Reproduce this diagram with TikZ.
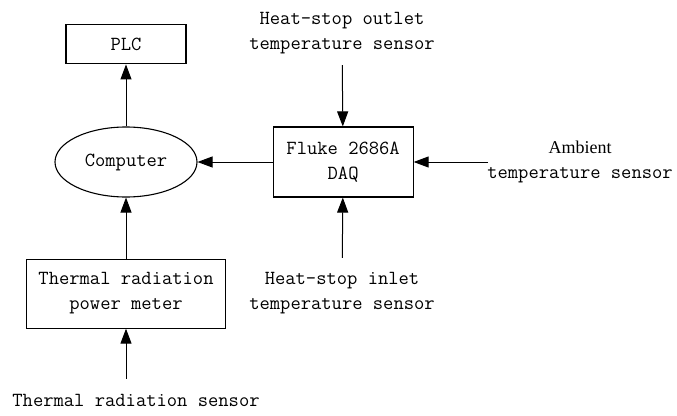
\documentclass[tikz,border=0pt]{standalone}
\usepackage{fontspec}
\newfontfamily\serifA{Liberation Serif}
\usetikzlibrary{arrows.meta,positioning,shapes.geometric}
\tikzset{
  blk/.style   ={rectangle,draw=black,line width=1.1pt,align=center,
                 inner sep=0pt},
  pc/.style    ={ellipse,draw=black,line width=1.1pt,minimum width=142pt,
                 minimum height=70pt,inner sep=0pt},
  lbl/.style   ={align=center,inner sep=3pt},
  arr/.style   ={-{Triangle[length=15pt,width=11pt]},draw=black,line width=1pt},
}

\begin{document}
\begin{tikzpicture}[
    x=1pt, y=-1pt, % pixel grid of the layout
    every node/.style={font=\ttfamily\fontsize{20}{25}\selectfont},
]
\useasboundingbox (0,0) rectangle (677,415);

% Nodes
\node[pc] (comp) at (126,162) {Computer};
\node[blk, minimum width=120pt, minimum height=39pt] (plc) [above=62pt of comp] {PLC};
\node[blk, minimum width=140pt, minimum height=70pt] (daq) [right=75pt of comp] {Fluke 2686A\\DAQ};
\node[blk, minimum width=199pt, minimum height=69pt] (meter) [below=61pt of comp] {Thermal radiation\\power meter};

\node[lbl] (outlet) at (342,33) {Heat-stop outlet\\temperature sensor};
\node[lbl] (inlet) at (342,293) {Heat-stop inlet\\temperature sensor};
\node[lbl] (amb) at (580,162) {{\serifA\fontsize{18}{25}\selectfont Ambient}\\temperature sensor};
\node[lbl] (sensor) at (136,400) {Thermal radiation sensor};

% Edges
\draw[arr] (comp) -- (plc);
\draw[arr] (daq) -- (comp);
\draw[arr] (meter) -- (comp);
\draw[arr, shorten <=8pt] (outlet) -- (daq);
\draw[arr, shorten <=11pt] (inlet) -- (daq);
\draw[arr, shorten <=-4pt] (amb.west |- daq.east) -- (daq.east);
\draw[arr, shorten <=12pt] (sensor.north -| meter.south) -- (meter.south);

\end{tikzpicture}
\end{document}
